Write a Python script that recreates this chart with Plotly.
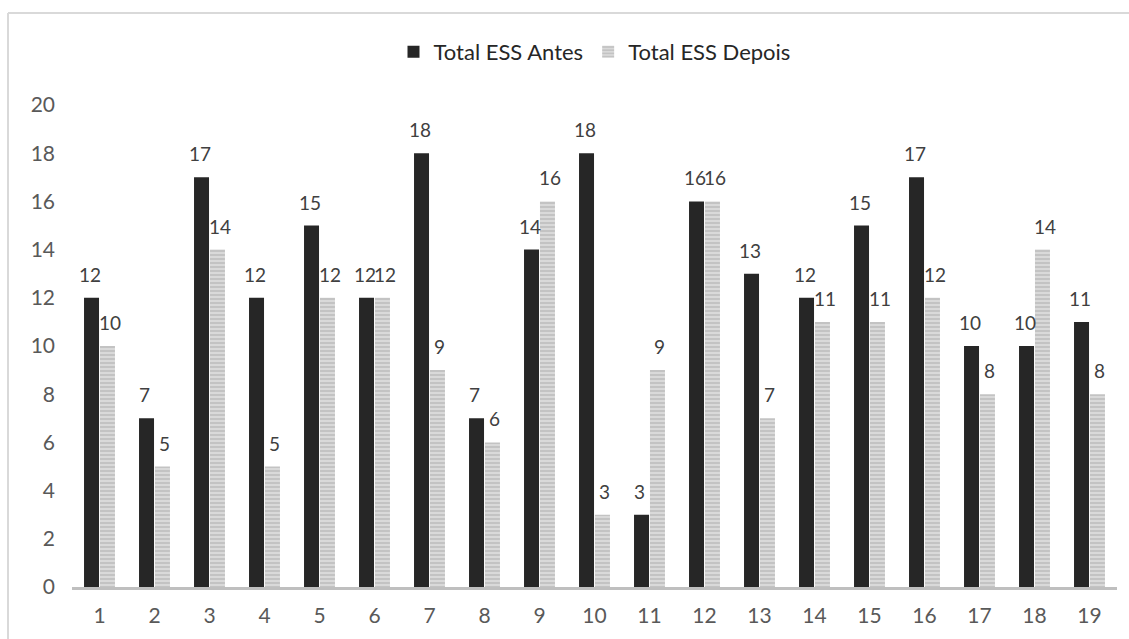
import plotly.graph_objects as go

# Epworth Sleepiness Scale totals per participant, before and after
participants = list(range(1, 20))
ess_antes = [12, 7, 17, 12, 15, 12, 18, 7, 14, 18, 3, 16, 13, 12, 15, 17, 10, 10, 11]
ess_depois = [10, 5, 14, 5, 12, 12, 9, 6, 16, 3, 9, 16, 7, 11, 11, 12, 8, 14, 8]
y_ticks = list(range(0, 21, 2))

FONT = "Lato"
FS = 21
LABEL_COLOR = "#595959"

fig = go.Figure()
fig.add_trace(go.Bar(
    x=participants, y=ess_antes, name="Total ESS Antes",
    marker=dict(color="#262626", line=dict(width=0)),
))
fig.add_trace(go.Bar(
    x=participants, y=ess_depois, name="Total ESS Depois",
    marker=dict(color="#d6d6d6", line=dict(width=0),
                pattern=dict(shape="-", fgcolor="#a9a9a9", bgcolor="#d9d9d9",
                             size=4, solidity=0.45)),
))

# value labels above each bar, nudged sideways onto its bar within the group
annotations = []
for values, dx in ((ess_antes, -10), (ess_depois, 10)):
    for cat, v in zip(participants, values):
        annotations.append(dict(
            x=cat, y=v, text=str(v), showarrow=False,
            xshift=dx, yshift=10, yanchor="bottom", xanchor="center",
            font=dict(family=FONT, size=19, color="#404040"),
        ))

# plot area: 72..1117 px horizontally, 105..587 px vertically
pw, ph = 1045, 482
def px_x(v):
    return (v - 72) / pw
def px_y(v):
    return (587 - v) / ph

border = dict(type="line", xref="paper", yref="paper", layer="below",
              line=dict(color="#d9d9d9", width=2))
shapes = [
    dict(border, x0=px_x(8), x1=px_x(1135), y0=px_y(13), y1=px_y(13)),
    dict(border, x0=px_x(8), x1=px_x(8), y0=px_y(13), y1=px_y(645)),
]

fig.update_layout(
    width=1129, height=639,
    margin=dict(l=72, r=12, t=105, b=52),
    paper_bgcolor="white", plot_bgcolor="white",
    barmode="group", bargap=0.42, bargroupgap=0.06,
    font=dict(family=FONT, size=FS, color=LABEL_COLOR),
    showlegend=True,
    legend=dict(orientation="h", x=0.5, xanchor="center", y=px_y(52), yanchor="middle",
                bgcolor="rgba(0,0,0,0)",
                font=dict(family=FONT, size=22, color="#262626"),
                itemwidth=30, traceorder="normal"),
    shapes=shapes,
    annotations=annotations,
    xaxis=dict(type="linear", range=[0.5, 19.5], tickvals=participants,
               showgrid=False, zeroline=False, showline=True,
               linecolor="#bfbfbf", linewidth=3,
               ticks="", ticklabelstandoff=8,
               tickfont=dict(family=FONT, size=FS, color=LABEL_COLOR)),
    yaxis=dict(range=[0, 20], tickvals=y_ticks, showgrid=False, zeroline=False,
               showline=False, ticks="", ticklabelstandoff=16,
               tickfont=dict(family=FONT, size=FS, color=LABEL_COLOR)),
)

fig.write_html("out.html")
